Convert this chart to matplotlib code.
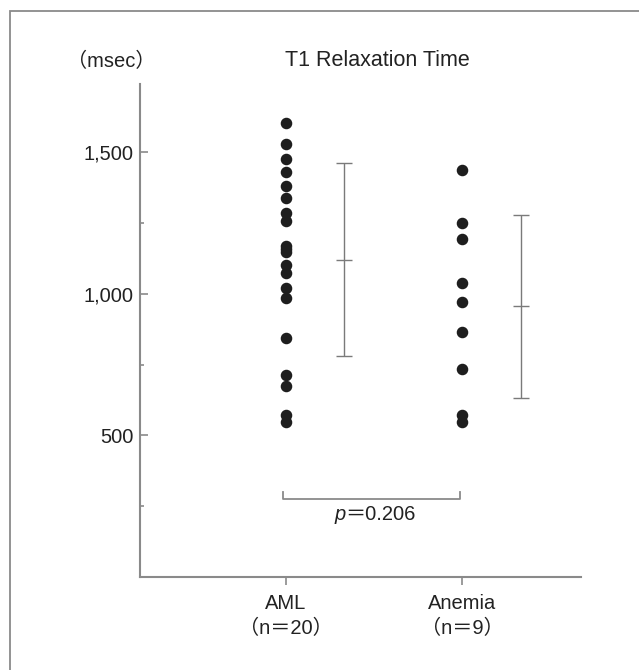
import matplotlib
matplotlib.use("Agg")
import matplotlib.pyplot as plt
from matplotlib.patches import Rectangle

# =================
# DANE
# =================
groups = ["AML", "Anemia"]
group_labels = ["AML\n（n＝20）", "Anemia\n（n＝9）"]

aml_t1 = [1603, 1528, 1475, 1428, 1379, 1337, 1285, 1257, 1169, 1158,
          1148, 1100, 1072, 1021, 984, 843, 714, 675, 573, 546]
anemia_t1 = [1438, 1248, 1192, 1037, 970, 863, 734, 573, 546]

means = [1120, 955]
sds = [340, 322]

y_major = [500, 1000, 1500]
y_major_labels = ["500", "1,000", "1,500"]
y_minor = [250, 750, 1250]

p_value = "＝0.206"

# =================
# STYL
# =================
plt.rcParams["font.family"] = ["Liberation Sans", "Noto Sans CJK JP", "DejaVu Sans"]

axis_col = "#8a8a8a"
dot_col = "#1e1e1e"
txt_col = "#222222"
W, H = 639, 670

fig = plt.figure(figsize=(W / 100, H / 100), dpi=100)
fig.patch.set_facecolor("white")

# ramka dookoła
fig.patches.append(Rectangle((10 / W, -0.1), 1.2, 1.1 - 11 / H,
                             transform=fig.transFigure, fill=False,
                             edgecolor="#8a8a8a", linewidth=1.3))

ax = fig.add_axes([139.5 / W, (H - 577) / H, (580.7 - 139.5) / W, (577 - 84) / H])
ax.set_xlim(0.172, 2.67)
ax.set_ylim(0, 1740)

# punkty
ax.plot([1] * len(aml_t1), aml_t1, "o", color=dot_col, markersize=7.3, zorder=3)
ax.plot([2] * len(anemia_t1), anemia_t1, "o", color=dot_col, markersize=7.3, zorder=3)

# srednia +- SD
for i, (m, s) in enumerate(zip(means, sds)):
    xe = i + 1 + 0.33
    ax.errorbar(xe, m, yerr=s, fmt="none", ecolor="#7a7a7a",
                elinewidth=1.0, capsize=5.5, capthick=1.0)
    ax.plot(xe, m, marker="_", color="#7a7a7a", markersize=11, markeredgewidth=1.0)

# nawias p
ax.plot([0.984, 0.984, 1.986, 1.986], [301, 276, 276, 301],
        color=axis_col, linewidth=1.3)
ax.text(1.337, 219, "p", ha="right", va="center", fontsize=14.5,
        fontstyle="italic", color=txt_col)
ax.text(1.337, 219, p_value, ha="left", va="center", fontsize=14.5, color=txt_col)

# osie
for side in ["top", "right"]:
    ax.spines[side].set_visible(False)
for side in ["left", "bottom"]:
    ax.spines[side].set_color(axis_col)
    ax.spines[side].set_linewidth(1.5)

ax.set_yticks(y_major)
ax.set_yticklabels(y_major_labels)
ax.set_yticks(y_minor, minor=True)
ax.tick_params(axis="y", which="major", direction="in", length=6, width=1.2,
               color=axis_col, labelsize=14.5, pad=4.5, labelcolor=txt_col)
ax.tick_params(axis="y", which="minor", direction="in", length=2.8, width=1.2,
               color=axis_col)

ax.set_xticks([1, 2])
ax.set_xticklabels(group_labels, linespacing=1.4)
ax.tick_params(axis="x", direction="out", length=6, width=1.2, color=axis_col,
               labelsize=14.5, pad=6, labelcolor=txt_col)

# tytuly
fig.text(377.5 / W, 1 - 60 / H, "T1 Relaxation Time", ha="center", va="center",
         fontsize=15.5, color=txt_col)
fig.text(111 / W, 1 - 61 / H, "（msec）", ha="center", va="center",
         fontsize=14.5, color=txt_col)

fig.savefig("out.png", dpi=100)
